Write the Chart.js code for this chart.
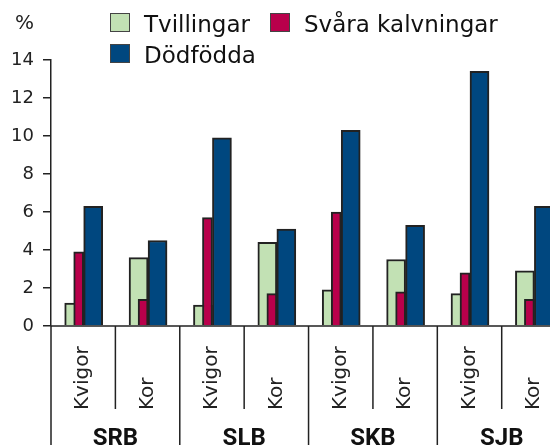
<!DOCTYPE html>
<html lang="sv">
<head>
  <meta charset="UTF-8" />
  <title>Tvillingar, svåra kalvningar och dödfödda</title>
  <script src="https://cdn.jsdelivr.net/npm/chart.js"></script>
  <style>
    body {
      margin: 0;
      padding: 0;
      background: #fff;
    }
    .wrap {
      position: relative;
      width: 550px;
      height: 445px;
      overflow: hidden;
    }
    canvas {
      position: absolute;
      left: 0;
      top: 0;
    }
    .unit {
      position: absolute;
      left: 15px;
      top: 12px;
      font: 20px/20px 'DejaVu Sans', sans-serif;
      color: #222;
    }
    #legend {
      position: absolute;
      left: 110px;
      top: 9px;
      width: 400px;
      display: flex;
      flex-wrap: wrap;
      column-gap: 20px;
      font: 23px 'DejaVu Sans', sans-serif;
      color: #111;
    }
    .item {
      display: flex;
      align-items: center;
      height: 31px;
      line-height: 31px;
    }
    .box {
      width: 18px;
      height: 17px;
      border: 1.5px solid #444;
      margin-right: 14px;
      position: relative;
      top: -2px;
    }
  </style>
</head>
<body>
  <div class="wrap">
    <canvas id="chart" width="550" height="445"></canvas>
    <div class="unit">%</div>
    <div id="legend"></div>
  </div>

  <script>
    const categories = ['Kvigor', 'Kor', 'Kvigor', 'Kor', 'Kvigor', 'Kor', 'Kvigor', 'Kor'];
    const breeds = ['SRB', 'SLB', 'SKB', 'SJB'];
    const seriesNames = ['Tvillingar', 'Svåra kalvningar', 'Dödfödda'];
    const tvillingar = [1.2, 3.6, 1.1, 4.4, 1.9, 3.5, 1.7, 2.9];
    const svaraKalvningar = [3.9, 1.4, 5.7, 1.7, 6.0, 1.8, 2.8, 1.4];
    const dodfodda = [6.3, 4.5, 9.9, 5.1, 10.3, 5.3, 13.4, 6.3];
    const colors = ['#c2e1b4', '#b9004b', '#00477f'];

    // bars sit slightly off the category centre, red overlaps the green one
    const shifts = [-0.14, -0.07, 0.155];
    const widths = [19, 10, 19];
    const drawOrder = [1, 0, 2];

    function toPoints(values, shift) {
      return values.map((v, i) => ({ x: i + shift, y: v }));
    }

    const series = [tvillingar, svaraKalvningar, dodfodda];

    const datasets = series.map((values, s) => ({
      label: seriesNames[s],
      data: toPoints(values, shifts[s]),
      backgroundColor: colors[s],
      borderColor: '#222',
      borderWidth: 2,
      barThickness: widths[s],
      grouped: false,
      order: drawOrder[s]
    }));

    // legend
    const legend = document.getElementById('legend');
    seriesNames.forEach((name, s) => {
      const item = document.createElement('div');
      item.className = 'item';
      const box = document.createElement('span');
      box.className = 'box';
      box.style.background = colors[s];
      const text = document.createElement('span');
      text.textContent = name;
      item.appendChild(box);
      item.appendChild(text);
      legend.appendChild(item);
    });

    // category labels, separators and breed names under the axis
    const lowerAxis = {
      id: 'lowerAxis',
      afterDraw(chart) {
        const { ctx, chartArea, scales } = chart;
        const x = scales.x;
        const y0 = scales.y.getPixelForValue(0);
        const bottom = chart.height;

        ctx.save();
        ctx.strokeStyle = '#222';
        ctx.lineWidth = 1.5;
        ctx.beginPath();
        ctx.moveTo(chartArea.left, y0);
        ctx.lineTo(chartArea.right, y0);
        ctx.moveTo(chartArea.left, y0);
        ctx.lineTo(chartArea.left, bottom);
        for (let k = 1; k <= categories.length; k++) {
          const px = x.getPixelForValue(k - 0.5);
          ctx.moveTo(px, y0);
          ctx.lineTo(px, k % 2 ? y0 + 83 : bottom);
        }
        ctx.stroke();

        ctx.fillStyle = '#222';
        ctx.font = "20px 'DejaVu Sans'";
        ctx.textAlign = 'left';
        ctx.textBaseline = 'middle';
        categories.forEach((c, i) => {
          ctx.save();
          ctx.translate(x.getPixelForValue(i), y0 + 84);
          ctx.rotate(-Math.PI / 2);
          ctx.fillText(c, 0, 0);
          ctx.restore();
        });

        ctx.fillStyle = '#111';
        ctx.font = "bold 24px Roboto";
        ctx.textAlign = 'center';
        ctx.textBaseline = 'alphabetic';
        breeds.forEach((b, g) => {
          ctx.fillText(b, x.getPixelForValue(2 * g + 0.5), bottom);
        });
        ctx.restore();
      }
    };

    new Chart(document.getElementById('chart'), {
      type: 'bar',
      data: { datasets: datasets },
      options: {
        responsive: false,
        animation: false,
        layout: {
          padding: { top: 60, bottom: 119, left: 0, right: 0 }
        },
        plugins: {
          legend: { display: false },
          tooltip: { enabled: false }
        },
        scales: {
          x: {
            type: 'linear',
            display: false,
            offset: false,
            bounds: 'data',
            min: -0.5,
            max: 7.25
          },
          y: {
            min: 0,
            max: 14,
            afterFit(scale) { scale.width = 51; },
            ticks: {
              stepSize: 2,
              color: '#222',
              padding: 9,
              font: { family: 'DejaVu Sans', size: 18 }
            },
            grid: {
              drawOnChartArea: false,
              tickLength: 8,
              color: '#222',
              lineWidth: 1.5
            },
            border: { color: '#222', width: 1.5 }
          }
        }
      },
      plugins: [lowerAxis]
    });
  </script>
</body>
</html>
